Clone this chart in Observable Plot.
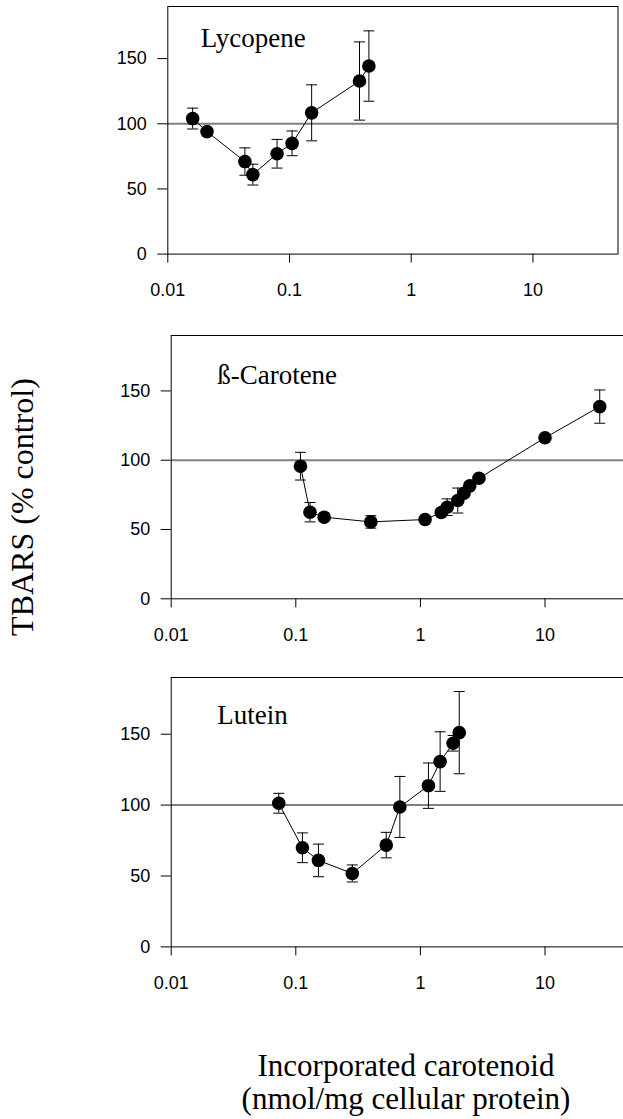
<!DOCTYPE html>
<html><head><meta charset="utf-8">
<script src="https://cdn.jsdelivr.net/npm/d3@7"></script>
<script src="https://cdn.jsdelivr.net/npm/@observablehq/plot@0.6"></script>
<style>
html,body{margin:0;padding:0;overflow:hidden;background:#fff;}
#wrap{position:relative;width:623px;height:1119px;overflow:hidden;}
.panel{position:absolute;left:0;max-width:none !important;}
.title{position:absolute;font-family:"Liberation Serif","Times New Roman",serif;font-size:31px;line-height:33px;color:#000;white-space:nowrap;}
</style></head><body>
<div id="wrap"></div>
<script>
// ---- data ----
const xTicks = [0.01, 0.1, 1, 10];
const xTickLabels = ["0.01", "0.1", "1", "10"];
const yTicks = [0, 50, 100, 150];
const controlLevel = [100];

const panelNames = ["Lycopene", "ß-Carotene", "Lutein"];

const lycX   = [0.016, 0.021, 0.043, 0.050, 0.079, 0.105, 0.152, 0.376, 0.449];
const lycY   = [104, 94, 71, 61, 77, 85, 108.4, 132.8, 144.3];
const lycErr = [8, 0, 10.5, 8, 11, 9.5, 21.5, 30, 27];

const carX   = [0.109, 0.130, 0.169, 0.400, 1.09, 1.47, 1.64, 1.995, 2.24, 2.49, 2.95, 10.0, 27.5];
const carY   = [95.7, 62.5, 58.9, 55.5, 57.2, 62.3, 66.1, 70.9, 76.2, 81.5, 87.0, 116.2, 138.7];
const carErr = [10, 7, 0, 4.5, 0, 0, 6, 9, 0, 0, 0, 0, 12];

const lutX   = [0.073, 0.113, 0.152, 0.284, 0.532, 0.684, 1.16, 1.44, 1.83, 2.05];
const lutY   = [101.3, 69.9, 61, 51.8, 71.8, 98.7, 113.7, 130.7, 143.6, 151.1];
const lutErr = [7, 10.5, 11.5, 6, 9, 21.5, 16, 21, 5.5, 29];

const yTitle = "TBARS (% control)";
const xTitle1 = "Incorporated carotenoid";
const xTitle2 = "(nmol/mg cellular protein)";

// ---- layout ----
const layout = [
  {top: 0.7,   width: 623, mL: 167.3, mR: 5.5, plotH: 247.6, dx: 33, dy: 31.4},
  {top: 330,   width: 640, mL: 170.7, mR: 8.4, plotH: 263.3, dx: 46, dy: 39.7},
  {top: 672.3, width: 640, mL: 170.7, mR: 8.4, plotH: 269.4, dx: 46, dy: 38}
];
const series = [[lycX, lycY, lycErr], [carX, carY, carErr], [lutX, lutY, lutErr]];

const cap = {draw(ctx) { ctx.moveTo(-5.5, 0); ctx.lineTo(5.5, 0); }};
const serif = '"Liberation Serif","Times New Roman",serif';

const wrap = document.getElementById("wrap");
series.forEach(([xs, ys, es], k) => {
  const L = layout[k];
  const rows = xs.map((x, i) => ({x, y: ys[i], lo: ys[i] - es[i], hi: ys[i] + es[i], e: es[i]}));
  const errRows = rows.filter(d => d.e > 0);
  const chart = Plot.plot({
    width: L.width,
    height: 5 + L.plotH + 60,
    marginLeft: L.mL, marginRight: L.mR, marginTop: 5, marginBottom: 60,
    style: {fontFamily: '"Liberation Sans", Arial, Helvetica, sans-serif', fontSize: "18px", color: "#000", background: "transparent", overflow: "visible", maxWidth: "none"},
    x: {type: "log", domain: [0.01, 50], ticks: xTicks, tickFormat: d => xTickLabels[xTicks.indexOf(d)], tickSize: 9, tickPadding: 20, label: null},
    y: {domain: [0, 190], ticks: yTicks, tickSize: 10, tickPadding: 11, label: null},
    marks: [
      Plot.ruleY(controlLevel, {stroke: "#808080", strokeWidth: 2}),
      Plot.frame({stroke: "#000", strokeWidth: 1}),
      Plot.ruleX(errRows, {x: "x", y1: "lo", y2: "hi", stroke: "#000", strokeWidth: 1}),
      Plot.dot(errRows, {x: "x", y: "lo", symbol: cap, r: 5, fill: "none", stroke: "#000", strokeWidth: 1}),
      Plot.dot(errRows, {x: "x", y: "hi", symbol: cap, r: 5, fill: "none", stroke: "#000", strokeWidth: 1}),
      Plot.line(rows, {x: "x", y: "y", stroke: "#000", strokeWidth: 1}),
      Plot.dot(rows, {x: "x", y: "y", r: 6.8, fill: "#000", stroke: "none"}),
      Plot.text([panelNames[k]], {frameAnchor: "top-left", text: d => d, dx: L.dx, dy: L.dy, textAnchor: "start", lineAnchor: "middle", fontFamily: serif, fontSize: 27, fill: "#000"})
    ]
  });
  chart.classList.add("panel");
  chart.style.top = L.top + "px";
  chart.style.maxWidth = "none";
  chart.style.width = L.width + "px";
  chart.style.height = (5 + L.plotH + 60) + "px";
  wrap.appendChild(chart);
});

const yt = document.createElement("div");
yt.className = "title";
yt.style.fontSize = "32px";
yt.style.lineHeight = "32px";
yt.textContent = yTitle;
yt.style.left = "22px";
yt.style.top = "507px";
yt.style.transform = "translate(-50%,-50%) rotate(-90deg)";
wrap.appendChild(yt);

const xt = document.createElement("div");
xt.className = "title";
xt.style.left = "406px";
xt.style.top = "1049px";
xt.style.transform = "translateX(-50%)";
xt.style.textAlign = "center";
const l1 = document.createElement("div"); l1.textContent = xTitle1;
const l2 = document.createElement("div"); l2.textContent = xTitle2;
xt.appendChild(l1); xt.appendChild(l2);
wrap.appendChild(xt);
</script>
</body></html>
